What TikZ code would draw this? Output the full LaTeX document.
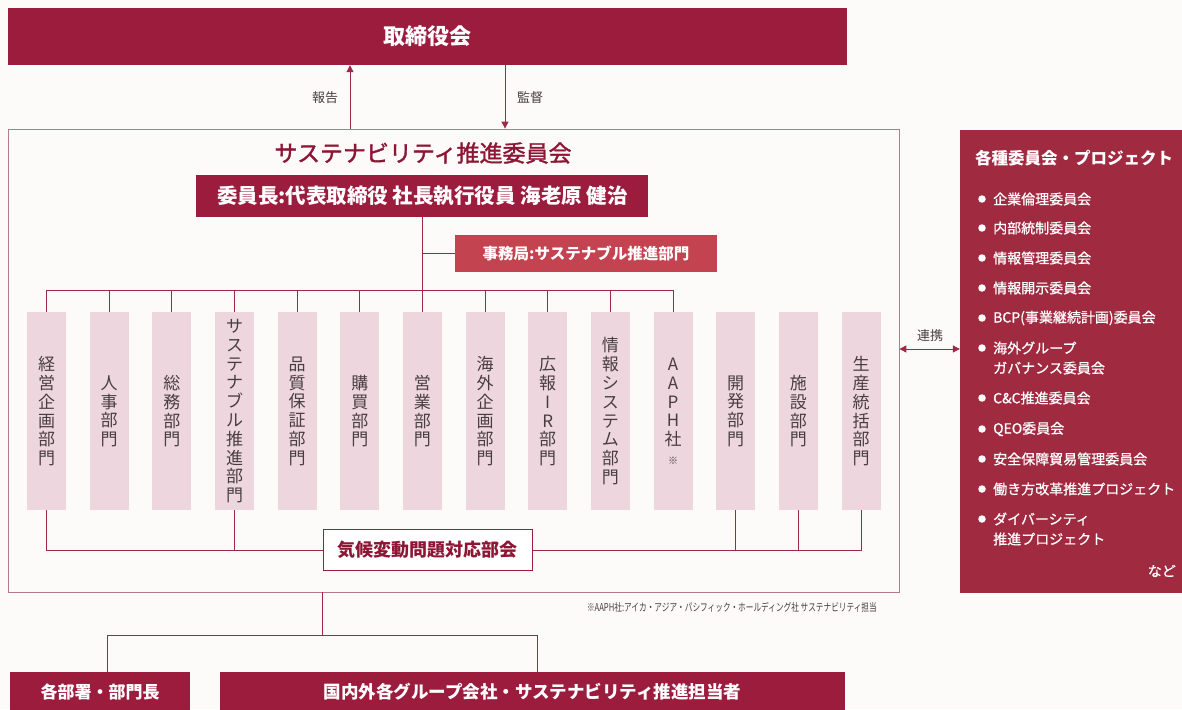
\documentclass[tikz,border=0pt]{standalone}
\usepackage{fontspec}
\setmainfont{Noto Sans CJK JP}
\newfontfamily\medf[FakeBold=1.5]{Noto Sans CJK JP}
\newfontfamily\litf[FakeBold=0.8]{Noto Sans CJK JP}
\usetikzlibrary{arrows.meta}
\definecolor{mred}{RGB}{156,28,62}
\definecolor{pred}{RGB}{160,42,64}
\definecolor{sred}{RGB}{196,67,80}
\definecolor{cpink}{RGB}{237,214,221}
\definecolor{lnc}{RGB}{158,40,72}
\definecolor{bordc}{RGB}{185,120,140}
\definecolor{ttl}{RGB}{140,22,52}
\definecolor{gtxt}{RGB}{72,62,66}
\definecolor{bgc}{RGB}{253,250,250}
\newcommand\fsz[1]{\fontsize{#1}{#1}\selectfont}
\begin{document}
\begin{tikzpicture}[x=1pt,y=-1pt,
  redbox/.style={fill=mred, text=white, inner sep=0},
  conn/.style={draw=lnc, line width=1},
  arr/.style={conn, -{Triangle[length=7,width=7]}},
  col/.style={fill=cpink, minimum width=39, minimum height=198, inner sep=0, anchor=north, align=center, text=gtxt, font=\fontsize{17}{18.8}\selectfont},
  item/.style={anchor=west, text=white, inner sep=0, align=left, font=\litf\fontsize{14}{20}\selectfont},
  bul/.style={circle, fill=white, minimum size=7.5, inner sep=0},
  lbl/.style={text=gtxt, font=\fsz{13}}]
\fill[bgc] (0,0) rectangle (1182,709);
\useasboundingbox (0,0) rectangle (1182,709);

% board
\node[redbox, minimum width=839, minimum height=57, font=\bfseries\fsz{22}] (board) at (427.5,36.5) {取締役会};

% main frame
\node[draw=bordc, line width=0.8, minimum width=891, minimum height=463, inner sep=0] (main) at (453.5,360.5) {};

\coordinate (rp) at (350,0);
\coordinate (sv) at (505,0);
\draw[arr] (main.north -| rp) -- (board.south -| rp);
\draw[arr] (board.south -| sv) -- (main.north -| sv);
\node[lbl] (lrep) at (325,98) {報告};
\node[lbl] (lsup) at (530,98) {監督};

\node[text=ttl, font=\medf\fsz{23}] (title) at (423,153) {サステナビリティ推進委員会};
\node[redbox, minimum width=452, minimum height=42, font=\bfseries\fsz{20.5}] (chair) at (422.4,196) {委員長:代表取締役 社長執行役員 海老原 健治};
\node[redbox, fill=sred, minimum width=262, minimum height=37, font=\bfseries\fsz{15.5}] (sec) at (586,253.5) {事務局:サステナブル推進部門};

% columns
\node[col] (c1) at (46.5,312) {経\\営\\企\\画\\部\\門};
\node[col] (c2) at (109.2,312) {人\\事\\部\\門};
\node[col] (c3) at (171.8,312) {総\\務\\部\\門};
\node[col] (c4) at (234.5,312) {サ\\ス\\テ\\ナ\\ブ\\ル\\推\\進\\部\\門};
\node[col] (c5) at (297.1,312) {品\\質\\保\\証\\部\\門};
\node[col] (c6) at (359.8,312) {購\\買\\部\\門};
\node[col] (c7) at (422.4,312) {営\\業\\部\\門};
\node[col] (c8) at (485.1,312) {海\\外\\企\\画\\部\\門};
\node[col] (c9) at (547.7,312) {広\\報\\I\\R\\部\\門};
\node[col] (c10) at (610.4,312) {情\\報\\シ\\ス\\テ\\ム\\部\\門};
\node[col] (c11) at (673,312) {A\\A\\P\\H\\社\\{\fsz{10}※}};
\node[col] (c12) at (735.7,312) {開\\発\\部\\門};
\node[col] (c13) at (798.3,312) {施\\設\\部\\門};
\node[col] (c14) at (861,312) {生\\産\\統\\括\\部\\門};

% bus
\coordinate (bus) at (0,290);
\draw[conn] (c1.north) -- (c1.north |- bus) -- (c11.north |- bus) -- (c11.north);
\foreach \k in {2,...,10} \draw[conn] (c\k.north) -- (c\k.north |- bus);
\draw[conn] (chair.south) -- (chair.south |- bus);
\draw[conn] (sec.west) -- (sec.west -| chair.south);

% climate committee
\node[draw=mred, line width=1, fill=white, minimum width=209, minimum height=41, inner sep=0, text=ttl, font=\bfseries\fsz{18}] (kiko) at (427.5,550) {気候変動問題対応部会};
\draw[conn] (c1.south) |- (kiko.west);
\draw[conn] (c4.south) -- (c4.south |- kiko.west);
\draw[conn] (c14.south) |- (kiko.east);
\draw[conn] (c12.south) -- (c12.south |- kiko.east);
\draw[conn] (c13.south) -- (c13.south |- kiko.east);

% footnote
\node[anchor=east, text=gtxt, inner sep=0, font=\fsz{10.8}] (note) at (877,607) {\scalebox{0.71}[1]{※AAPH社:アイカ・アジア・パシフィック・ホールディング社 サステナビリティ担当}};

% bottom
\node[redbox, minimum width=180, minimum height=40, font=\bfseries\fsz{17}] (dept) at (100,692) {各部署・部門長};
\node[redbox, minimum width=625, minimum height=40, font=\bfseries\fsz{17.5}] (grp) at (532.5,692) {国内外各グループ会社・サステナビリティ推進担当者};
\coordinate (bt) at (322,0);
\coordinate (hb) at (0,635);
\coordinate (dl) at (107,0);
\coordinate (gl) at (537,0);
\draw[conn] (main.south -| bt) -- (bt |- hb);
\draw[conn] (dept.north -| dl) |- (gl |- hb) -- (grp.north -| gl);

% right panel
\node[fill=pred, minimum width=230, minimum height=463, inner sep=0] (panel) at (1075,361.5) {};
\coordinate (lk) at (0,349);
\draw[conn, {Triangle[length=7,width=7]}-{Triangle[length=7,width=7]}] (main.east |- lk) -- (panel.west |- lk);
\node[lbl] (llk) at (930,336) {連携};

\node[anchor=west, text=white, font=\bfseries\fsz{16.5}, inner sep=0] (ptitle) at (975,158) {各種委員会・プロジェクト};
\node[bul] (b1) at (982,199) {};  \node[item] (i1) at (993,199) {企業倫理委員会};
\node[bul] (b2) at (982,228) {};  \node[item] (i2) at (993,228) {内部統制委員会};
\node[bul] (b3) at (982,258) {};  \node[item] (i3) at (993,258) {情報管理委員会};
\node[bul] (b4) at (982,288) {};  \node[item] (i4) at (993,288) {情報開示委員会};
\node[bul] (b5) at (982,318) {};  \node[item] (i5) at (993,318) {BCP(事業継続計画)委員会};
\node[bul] (b6) at (982,348) {};  \node[item] (i6) at (993,358) {海外グループ\\ガバナンス委員会};
\node[bul] (b7) at (982,398) {};  \node[item] (i7) at (993,398) {C\&C推進委員会};
\node[bul] (b8) at (982,429) {};  \node[item] (i8) at (993,429) {QEO委員会};
\node[bul] (b9) at (982,459) {};  \node[item] (i9) at (993,459) {安全保障貿易管理委員会};
\node[bul] (b10) at (982,489) {}; \node[item] (i10) at (993,489) {働き方改革推進プロジェクト};
\node[bul] (b11) at (982,519) {}; \node[item] (i11) at (993,529) {ダイバーシティ\\推進プロジェクト};
\node[item, anchor=east] (nado) at (1176,571) {など};
\end{tikzpicture}
\end{document}
